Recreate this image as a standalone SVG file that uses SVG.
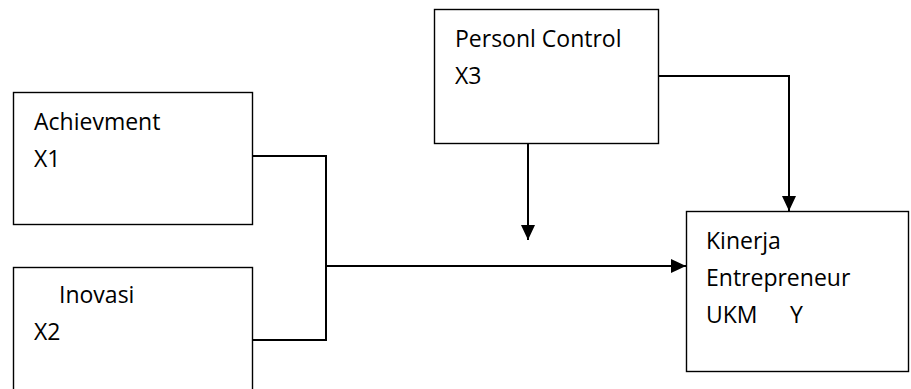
<svg xmlns="http://www.w3.org/2000/svg" width="911" height="389" viewBox="0 0 911 389">
<defs>
<marker id="arr" markerUnits="userSpaceOnUse" markerWidth="16" markerHeight="14" refX="15" refY="7" orient="auto">
<path d="M0,0 L15,7 L0,14 Z" fill="#000"/>
</marker>
<style>
.box{fill:#fff;stroke:#000;stroke-width:1.4}
.t{font-family:"Open Sans","Noto Sans",sans-serif;font-size:23px;fill:#000}
.c{fill:none;stroke:#000;stroke-width:2}
</style>
</defs>
<rect width="911" height="389" fill="#fff"/>
<g id="achievment">
<rect class="box" x="13.5" y="92.5" width="239" height="132"/>
<text class="t" x="34" y="130">Achievment</text>
<text class="t" x="34" y="167">X1</text>
</g>
<g id="inovasi">
<rect class="box" x="13.5" y="267.5" width="239" height="140"/>
<text class="t" x="59" y="303">Inovasi</text>
<text class="t" x="34" y="340">X2</text>
</g>
<g id="personl-control">
<rect class="box" x="434.5" y="9.5" width="224" height="134"/>
<text class="t" x="455" y="47">Personl Control</text>
<text class="t" x="455" y="84">X3</text>
</g>
<g id="kinerja">
<rect class="box" x="686.5" y="211.5" width="222" height="160"/>
<text class="t" x="706" y="249">Kinerja</text>
<text class="t" x="706" y="286">Entrepreneur</text>
<text class="t" x="706" y="323">UKM</text>
<text class="t" x="790" y="323">Y</text>
</g>
<g id="connectors">
<polyline class="c" points="252,156 326,156 326,340 252,340"/>
<line class="c" x1="326" y1="266" x2="686" y2="266" marker-end="url(#arr)"/>
<line class="c" x1="528" y1="143" x2="528" y2="240" marker-end="url(#arr)"/>
<polyline class="c" points="658,76 789,76 789,211" marker-end="url(#arr)"/>
</g>
</svg>
